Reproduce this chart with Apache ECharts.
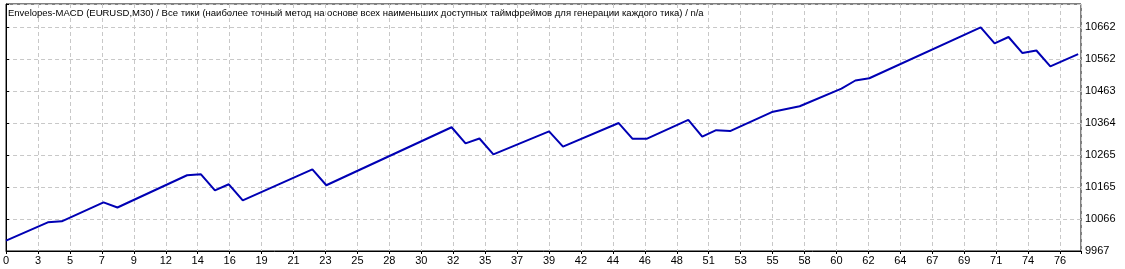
<!DOCTYPE html>
<html>
<head>
<meta charset="utf-8">
<script src="https://cdn.jsdelivr.net/npm/echarts@6/dist/echarts.min.js"></script>
<style>
html,body{margin:0;padding:0;background:#fff;}
#chart{width:1125px;height:269px;}
</style>
</head>
<body>
<div id="chart"></div>
<script>
// Balance curve: [trade number, balance] at the vertices
const tradeNumbers = [0, 3, 4, 7, 8, 13, 14, 15, 16, 17, 22, 23, 32, 33, 34, 35, 39, 40, 44, 45, 46, 49, 50, 51, 52, 55, 57, 60, 61, 62, 70, 71, 72, 73, 74, 75, 77];
const balanceValues = [9999, 10056, 10059, 10118, 10102, 10202, 10205, 10155, 10174, 10124, 10220, 10171, 10351, 10301, 10316, 10267, 10338, 10291, 10364, 10315, 10315, 10374, 10322, 10342, 10339, 10398, 10416, 10471, 10496, 10503, 10661, 10611, 10631, 10581, 10589, 10540, 10578];
const xTickLabels = ['0','3','5','7','9','12','14','16','19','21','23','25','28','30','32','35','37','39','42','44','46','48','51','53','55','58','60','62','64','67','69','71','74','76'];
const yTickLabels = ['9967','10066','10165','10265','10364','10463','10562','10662'];
const titleText = 'Envelopes-MACD (EURUSD,M30) / Все тики (наиболее точный метод на основе всех наименьших доступных таймфреймов для генерации каждого тика) / n/a';

const yMin = 9967, yStep = 695 / 7, yMax = 9967 + 247 * (yStep / 32);
const xStep = 32 / 13.95, xMax = 1077 / 13.95;

const chart = echarts.init(document.getElementById('chart'), null, {renderer: 'canvas'});
chart.setOption({
  animation: false,
  backgroundColor: '#ffffff',
  title: {
    text: titleText,
    left: 3, top: 3,
    textStyle: {fontSize: 9.5, fontWeight: 'normal', color: '#000', fontFamily: 'Liberation Sans'}
  },
  grid: {left: 4, top: 4, width: 1077, height: 247, show: true, borderColor: '#000', borderWidth: 1, backgroundColor: 'transparent'},
  xAxis: {
    type: 'value', min: 0, max: xMax, interval: xStep,
    axisLine: {show: true, lineStyle: {color: '#000', width: 1}},
    axisTick: {show: true, length: 3, lineStyle: {color: '#000'}},
    axisLabel: {
      color: '#000', fontSize: 11, fontFamily: 'Liberation Sans', margin: 4,
      showMinLabel: true, showMaxLabel: true,
      formatter: v => { const i = Math.round(v / xStep); return Math.abs(i * xStep - v) < 0.01 && xTickLabels[i] !== undefined ? xTickLabels[i] : ''; }
    },
    splitLine: {show: true, lineStyle: {color: '#c8c8c8', type: [4, 3], width: 1}}
  },
  yAxis: {
    type: 'value', position: 'right', min: yMin, max: yMax, interval: yStep,
    axisLine: {show: true, lineStyle: {color: '#000', width: 1}},
    axisTick: {show: true, length: 3, lineStyle: {color: '#000'}},
    axisLabel: {
      color: '#000', fontSize: 11, fontFamily: 'Liberation Sans', margin: 4,
      showMinLabel: true, showMaxLabel: true,
      formatter: v => { const i = Math.round((v - yMin) / yStep); return Math.abs(yMin + i * yStep - v) < 0.01 && yTickLabels[i] !== undefined ? yTickLabels[i] : ''; }
    },
    splitLine: {show: true, lineStyle: {color: '#c8c8c8', type: [4, 3], width: 1}}
  },
  series: [{
    type: 'line',
    data: tradeNumbers.map((t, i) => [t, balanceValues[i]]),
    symbol: 'none',
    lineStyle: {color: '#0000b4', width: 2},
    z: 5
  }]
});
</script>
</body>
</html>
